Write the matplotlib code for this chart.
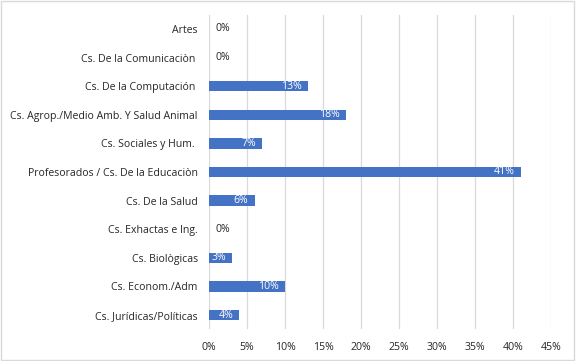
import matplotlib.pyplot as plt
from matplotlib.patches import Rectangle
from matplotlib.ticker import PercentFormatter

# categories from top to bottom, as shown in the chart
categories = [
    "Artes",
    "Cs. De la Comunicaciòn ",
    "Cs. De la Computación ",
    "Cs. Agrop./Medio Amb. Y Salud Animal",
    "Cs. Sociales y Hum. ",
    "Profesorados / Cs. De la Educaciòn",
    "Cs. De la Salud",
    "Cs. Exhactas e Ing.",
    "Cs. Biològicas",
    "Cs. Econom./Adm",
    "Cs. Jurídicas/Políticas",
]
shares = [0.00, 0.00, 0.13, 0.18, 0.07, 0.41, 0.06, 0.00, 0.03, 0.10, 0.04]
x_ticks = [0.00, 0.05, 0.10, 0.15, 0.20, 0.25, 0.30, 0.35, 0.40, 0.45]

plt.rcParams['font.family'] = ['Open Sans', 'DejaVu Sans']
fs = 7.6

fig = plt.figure(figsize=(5.76, 3.61), dpi=100)
ax = fig.add_axes([0.3628, 0.0878, 0.5938, 0.8715])

# light frame around the whole chart
fig.patches.append(Rectangle((0.002, 0.003), 0.995, 0.993, transform=fig.transFigure,
                             fill=False, edgecolor='#d9d9d9', linewidth=1))

y = range(len(categories))
ax.barh(y, shares, height=0.36, color='#4472c4', zorder=3)

for i, v in enumerate(shares):
    label = f"{v * 100:.0f}%"
    if v > 0:
        ax.text(v - 0.008, i, label, ha='right', va='center', color='white', fontsize=fs, zorder=4)
    else:
        ax.text(0.009, i, label, ha='left', va='center', color='#262626', fontsize=fs, zorder=4)

ax.set_ylim(len(categories) - 0.5, -0.5)
ax.set_yticks(list(y))
ax.set_yticklabels(categories, fontsize=fs, color='#262626')
ax.set_xlim(0, 0.45)
ax.set_xticks(x_ticks)
ax.xaxis.set_major_formatter(PercentFormatter(1.0, decimals=0))
ax.tick_params(axis='x', labelsize=fs, colors='#262626', length=0, pad=9)
ax.tick_params(axis='y', length=0, pad=8)
ax.grid(axis='x', color='#d9d9d9', linewidth=0.9, zorder=0)
for s in ax.spines.values():
    s.set_visible(False)

fig.savefig('out.png', dpi=100)
